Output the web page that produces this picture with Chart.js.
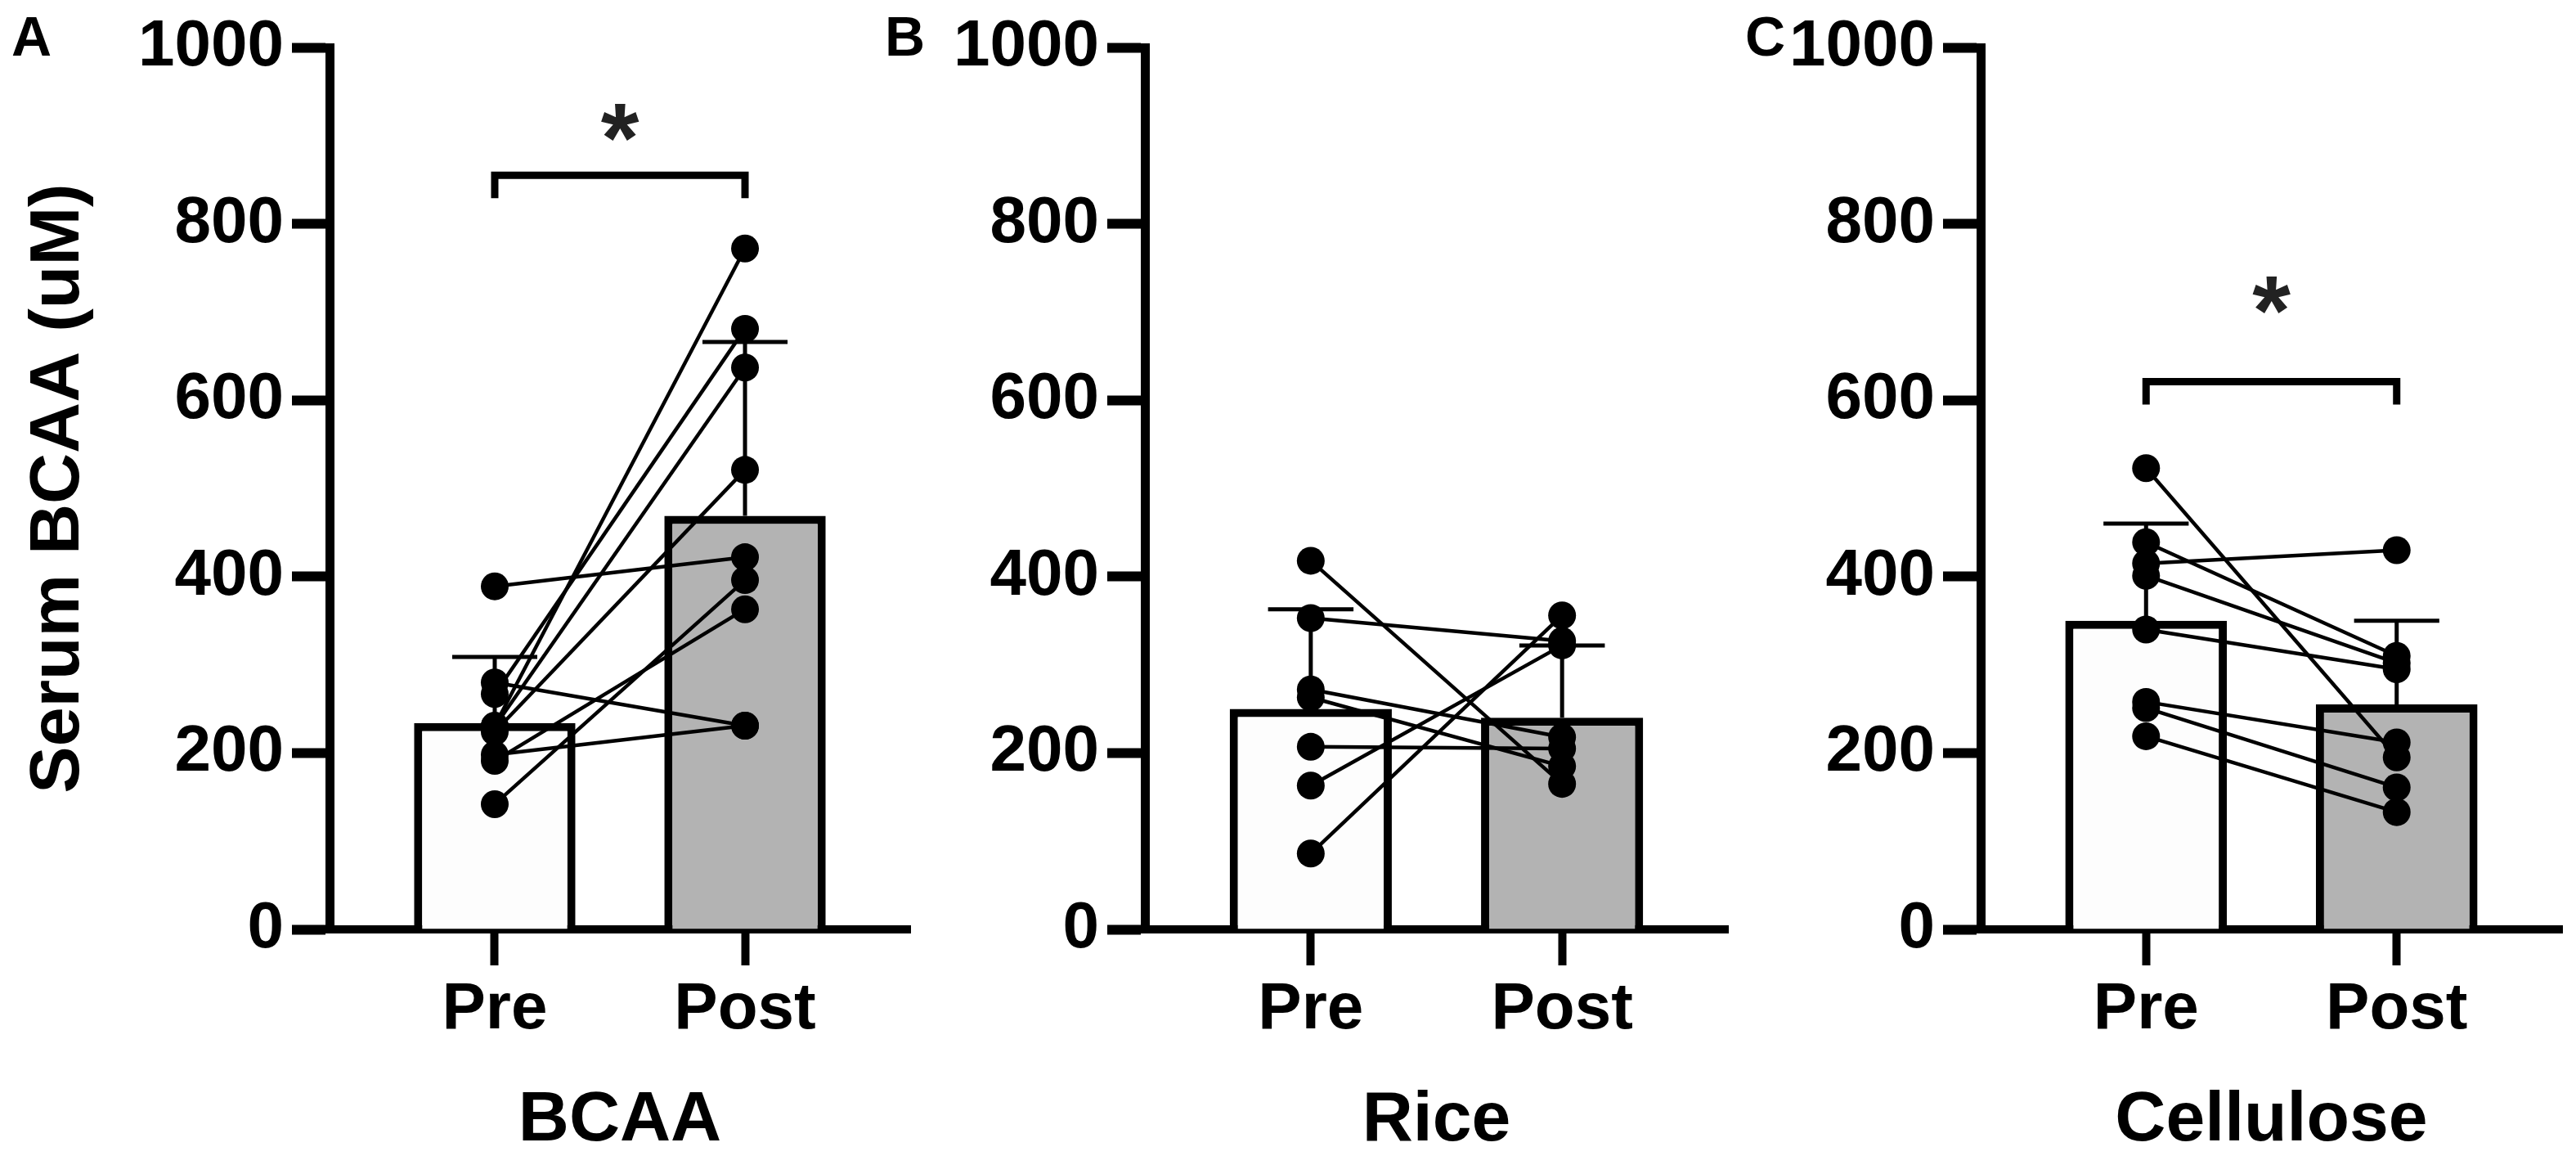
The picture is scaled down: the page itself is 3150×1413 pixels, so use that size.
<!DOCTYPE html>
<html>
<head>
<meta charset="utf-8">
<script src="https://cdn.jsdelivr.net/npm/chart.js@4.4.1/dist/chart.umd.min.js"></script>
<style>
  body { margin: 0; background: #fff; }
  #wrap { position: relative; width: 3150px; height: 1413px; overflow: hidden; }
  canvas { position: absolute; top: 0; }
</style>
</head>
<body>
<div id="wrap">
  <canvas id="chartA" width="1130" height="1413" style="left:0px"></canvas>
  <canvas id="chartB" width="1050" height="1413" style="left:1080px"></canvas>
  <canvas id="chartC" width="1020" height="1413" style="left:2130px"></canvas>
</div>
<script>
var groups = ["Pre", "Post"];
var yTicks = [0, 200, 400, 600, 800, 1000];

// bar height = mean, error bar = mean + sd
var bcaaMean = [234, 469];
var bcaaSd = [75, 197];
var bcaaPre = [389, 280, 267, 231, 230, 224, 198, 191, 142];
var bcaaPost = [422, 231, 681, 772, 637, 521, 231, 363, 396];

var riceMean = [250, 240];
var riceSd = [113, 82];
var ricePre = [418, 353, 272, 263, 207, 163, 86];
var ricePost = [165, 327, 218, 185, 205, 322, 356];

var celluloseMean = [350, 255];
var celluloseSd = [110, 95];
var cellulosePre = [523, 439, 415, 401, 340, 258, 251, 219];
var cellulosePost = [195, 310, 430, 302, 295, 212, 161, 133];

Chart.defaults.font.family = "'Liberation Sans', Arial, sans-serif";
Chart.defaults.font.weight = "bold";
Chart.defaults.color = "#000";

function makePanel(id, cfg) {
    var datasets = [{
        type: "bar",
        data: cfg.mean.map(function (v, i) { return { x: i, y: v }; }),
        backgroundColor: ["#fdfdfd", "#b3b3b3"],
        borderColor: "#000",
        borderWidth: 10,
        categoryPercentage: 1,
        barPercentage: 0.645,
        order: 2
    }];
    cfg.pre.forEach(function (v, i) {
        datasets.push({
            type: "line",
            data: [{ x: 0, y: v }, { x: 1, y: cfg.post[i] }],
            borderColor: "#000",
            borderWidth: 4.5,
            pointRadius: 17,
            pointBackgroundColor: "#000",
            pointBorderWidth: 0,
            clip: false,
            order: 1
        });
    });

    var extras = {
        id: "extras",
        afterDatasetDraw: function (chart, args) {
            if (args.index !== 0) return;
            var x = chart.scales.x, y = chart.scales.y, ctx = chart.ctx;
            ctx.save();
            ctx.strokeStyle = "#000";
            ctx.lineWidth = 5;
            cfg.mean.forEach(function (m, i) {
                var cx = x.getPixelForValue(i);
                var half = x.getPixelForValue(i + 0.17) - cx;
                var top = y.getPixelForValue(m + cfg.sd[i]);
                ctx.beginPath();
                ctx.moveTo(cx, y.getPixelForValue(m));
                ctx.lineTo(cx, top);
                ctx.moveTo(cx - half, top);
                ctx.lineTo(cx + half, top);
                ctx.stroke();
            });
            ctx.restore();
        },
        afterDraw: function (chart) {
            var x = chart.scales.x, y = chart.scales.y, ctx = chart.ctx;
            ctx.save();
            ctx.fillStyle = "#000";
            ctx.font = "bold 68px 'Liberation Sans'";
            ctx.textBaseline = "alphabetic";
            ctx.fillText(cfg.letter, cfg.letterX, 68);
            if (cfg.sig) {
                var x0 = x.getPixelForValue(0), x1 = x.getPixelForValue(1);
                var yb = y.getPixelForValue(cfg.sig[0]);
                var ye = y.getPixelForValue(cfg.sig[0] - 26);
                ctx.strokeStyle = "#000";
                ctx.lineWidth = 9;
                ctx.lineJoin = "miter";
                ctx.beginPath();
                ctx.moveTo(x0, ye);
                ctx.lineTo(x0, yb);
                ctx.lineTo(x1, yb);
                ctx.lineTo(x1, ye);
                ctx.stroke();
                ctx.fillStyle = "#222";
                ctx.font = "bold 120px 'Liberation Sans'";
                ctx.textAlign = "center";
                var m = ctx.measureText("*");
                var cy = y.getPixelForValue(cfg.sig[1]);
                ctx.fillText("*", (x0 + x1) / 2, cy + (m.actualBoundingBoxAscent - m.actualBoundingBoxDescent) / 2);
            }
            ctx.restore();
        }
    };

    return new Chart(document.getElementById(id).getContext("2d"), {
        type: "bar",
        data: { datasets: datasets },
        options: {
            responsive: false,
            animation: false,
            devicePixelRatio: 1,
            events: [],
            layout: { padding: { top: 52, right: cfg.padRight, left: 0, bottom: 0 } },
            plugins: { legend: { display: false }, tooltip: { enabled: false } },
            scales: {
                x: {
                    type: "linear",
                    min: -0.66,
                    max: 1.66,
                    offset: false,
                    afterBuildTicks: function (s) {
                        s.ticks = groups.map(function (g, i) { return { value: i }; });
                    },
                    afterFit: function (s) { s.height = 277; },
                    ticks: {
                        callback: function (v) { return groups[v]; },
                        font: { size: 80, weight: "bold" },
                        color: "#000",
                        padding: 7,
                        maxRotation: 0,
                        autoSkip: false
                    },
                    grid: { offset: false, drawOnChartArea: false, tickLength: 44, tickWidth: 10, tickColor: "#000" },
                    border: { display: true, width: 10, color: "#000" },
                    title: {
                        display: true,
                        text: cfg.name,
                        font: { size: 86, weight: "bold", lineHeight: 1 },
                        color: "#000",
                        padding: { top: 0, bottom: 0 }
                    }
                },
                y: {
                    min: 0,
                    max: 1000,
                    afterBuildTicks: function (s) {
                        s.ticks = yTicks.map(function (v) { return { value: v }; });
                    },
                    afterFit: function (s) { s.width = cfg.yWidth; },
                    ticks: {
                        callback: function (v) { return String(v); },
                        font: { size: 80, weight: "bold" },
                        color: "#000",
                        padding: 10
                    },
                    grid: { drawOnChartArea: false, tickLength: 46, tickWidth: 12, tickColor: "#000" },
                    border: { display: true, width: 11, color: "#000" },
                    title: {
                        display: !!cfg.yTitle,
                        text: cfg.yTitle || "",
                        font: { size: 86, weight: "bold", lineHeight: 1 },
                        color: "#000",
                        padding: { top: 29, bottom: 0 }
                    }
                }
            }
        },
        plugins: [extras]
    });
}

makePanel("chartA", {
    name: "BCAA", letter: "A", letterX: 14, yWidth: 403, padRight: 5,
    yTitle: "Serum BCAA (uM)",
    mean: bcaaMean, sd: bcaaSd, pre: bcaaPre, post: bcaaPost,
    sig: [855, 915]
});
makePanel("chartB", {
    name: "Rice", letter: "B", letterX: 2, yWidth: 320, padRight: 7,
    mean: riceMean, sd: riceSd, pre: ricePre, post: ricePost
});
makePanel("chartC", {
    name: "Cellulose", letter: "C", letterX: 4, yWidth: 292, padRight: 5,
    mean: celluloseMean, sd: celluloseSd, pre: cellulosePre, post: cellulosePost,
    sig: [621, 719]
});
</script>
</body>
</html>
